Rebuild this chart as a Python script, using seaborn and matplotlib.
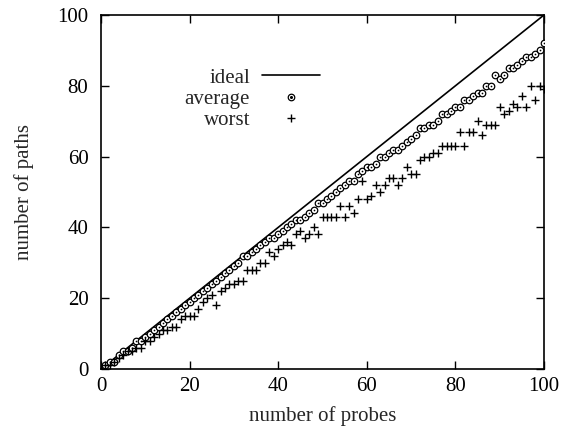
import matplotlib
matplotlib.use("Agg")
import matplotlib.pyplot as plt
import seaborn as sns
from matplotlib.lines import Line2D
from matplotlib.legend_handler import HandlerTuple

probes = list(range(1, 101))
average = [1, 2, 2, 4, 5, 5, 6, 8, 8, 9,
           10, 11, 12, 13, 14, 15, 16, 17, 18, 19,
           20, 21, 22, 23, 24, 25, 26, 27, 28, 29,
           30, 32, 32, 33, 34, 35, 36, 37, 37, 38,
           39, 40, 41, 42, 42, 43, 44, 45, 47, 47,
           48, 49, 50, 51, 52, 53, 53, 55, 56, 57,
           57, 58, 60, 60, 61, 62, 62, 63, 64, 65,
           66, 68, 68, 69, 69, 70, 72, 72, 73, 74,
           74, 76, 76, 77, 78, 78, 80, 80, 83, 82,
           83, 85, 85, 86, 87, 88, 88, 89, 90, 92]
worst = [1, 1, 2, 3, 4, 5, 5, 6, 6, 8,
         8, 9, 10, 11, 11, 12, 12, 14, 15, 15,
         15, 17, 19, 20, 21, 18, 22, 23, 24, 24,
         25, 25, 28, 28, 28, 30, 30, 33, 32, 34,
         35, 36, 35, 38, 39, 37, 38, 40, 38, 43,
         43, 43, 43, 46, 43, 46, 44, 48, 53, 48,
         49, 52, 50, 52, 54, 54, 52, 54, 57, 55,
         55, 59, 60, 60, 61, 61, 63, 63, 63, 63,
         67, 63, 67, 67, 70, 66, 69, 69, 69, 74,
         72, 73, 75, 74, 77, 74, 80, 76, 80, 79]
ideal_x = [0, 100]
ideal_y = [0, 100]

x_ticks = [0, 20, 40, 60, 80, 100]
y_ticks = [0, 20, 40, 60, 80, 100]

sns.set_style("ticks")
plt.rcParams['font.family'] = ['Liberation Serif', 'DejaVu Serif']

FS = 15

fig = plt.figure(figsize=(5.64, 4.34), dpi=100)
ax = fig.add_axes([101/564, 1 - 369/434, 443/564, 354/434])

sns.lineplot(x=ideal_x, y=ideal_y, ax=ax, color='black', linewidth=1.2)
sns.scatterplot(x=probes, y=average, ax=ax, marker='o', s=22,
                facecolor='white', edgecolor='black', linewidth=0.9, zorder=3)
sns.scatterplot(x=probes, y=average, ax=ax, marker='o', s=1.5,
                color='black', linewidth=0, zorder=4)
sns.scatterplot(x=probes, y=worst, ax=ax, marker='+', s=40,
                color='black', linewidth=1.0, zorder=3)

ax.set_xlim(0, 100)
ax.set_ylim(0, 100)
ax.set_xticks(x_ticks)
ax.set_yticks(y_ticks)
ax.tick_params(direction='in', length=6, width=1, top=True, right=True,
               labelsize=FS, colors='black')
ax.tick_params(axis='y', pad=9)
ax.tick_params(axis='x', pad=6)
for sp in ax.spines.values():
    sp.set_linewidth(1.2)
    sp.set_color('black')

ax.set_xlabel('number of probes', fontsize=FS, labelpad=7)
ax.set_ylabel('number of paths', fontsize=FS, labelpad=17)

h_ideal = Line2D([], [], color='black', linewidth=1.2)
h_avg = (Line2D([], [], marker='o', linestyle='none', markersize=4.7,
                markerfacecolor='white', markeredgecolor='black', markeredgewidth=0.9),
         Line2D([], [], marker='o', linestyle='none', markersize=1.2,
                color='black'))
h_worst = Line2D([], [], marker='+', linestyle='none', markersize=6.3,
                 color='black', markeredgewidth=1.0)
ax.legend([h_ideal, h_avg, h_worst], ['ideal', 'average', 'worst'],
          handler_map={tuple: HandlerTuple(ndivide=1)},
          loc='upper right', bbox_to_anchor=(0.494, 0.85),
          frameon=False, markerfirst=False, fontsize=FS,
          handlelength=2.8, handletextpad=0.55, labelspacing=0.08,
          borderpad=0, borderaxespad=0, numpoints=1)

fig.savefig('out.png', dpi=100)
